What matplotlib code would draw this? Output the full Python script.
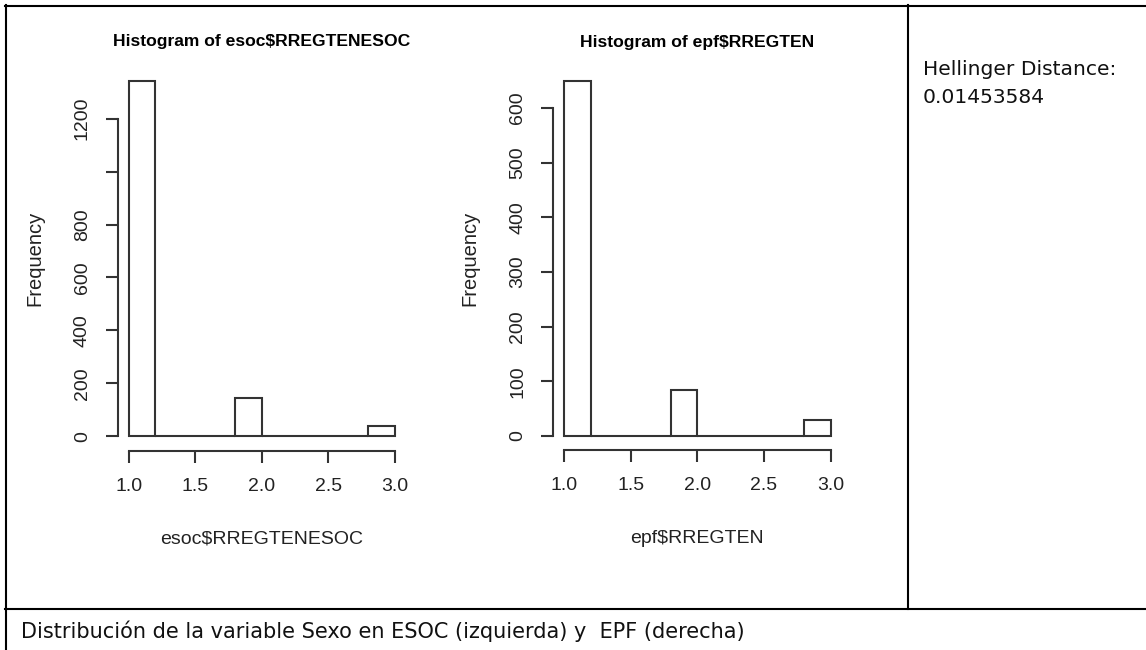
import matplotlib.pyplot as plt
from matplotlib.lines import Line2D

# histogram data
breaks = [1.0, 1.2, 1.4, 1.6, 1.8, 2.0, 2.2, 2.4, 2.6, 2.8, 3.0]
esoc_counts = [1343, 0, 0, 0, 146, 0, 0, 0, 0, 41]
epf_counts = [650, 0, 0, 0, 84, 0, 0, 0, 0, 29]
esoc_yticks = [0, 200, 400, 600, 800, 1000, 1200]
esoc_yticklabels = ['0', '200', '400', '600', '800', '', '1200']
epf_yticks = [0, 100, 200, 300, 400, 500, 600]
xticks = [1.0, 1.5, 2.0, 2.5, 3.0]

W, H = 1146, 650
fig = plt.figure(figsize=(W / 100, H / 100), dpi=100)
plt.rcParams['font.family'] = ['Liberation Sans', 'DejaVu Sans']
gray = '#333333'


def px_axes(left, top, right, bottom):
    return fig.add_axes([left / W, 1 - bottom / H, (right - left) / W, (bottom - top) / H])


def r_hist(ax, counts, yticks, yticklabels, title, xlabel):
    widths = [breaks[i + 1] - breaks[i] for i in range(len(counts))]
    ax.bar(breaks[:-1], counts, width=widths, align='edge',
           facecolor='white', edgecolor=gray, linewidth=1.5)
    ymax = max(counts)
    # R style 4% padding around the data range
    ax.set_xlim(breaks[0] - 0.04 * (breaks[-1] - breaks[0]), breaks[-1] + 0.04 * (breaks[-1] - breaks[0]))
    ax.set_ylim(-0.04 * ymax, 1.04 * ymax)
    for s in ['top', 'right']:
        ax.spines[s].set_visible(False)
    ax.spines['left'].set_bounds(yticks[0], yticks[-1])
    ax.spines['bottom'].set_bounds(xticks[0], xticks[-1])
    for s in ['left', 'bottom']:
        ax.spines[s].set_color(gray)
        ax.spines[s].set_linewidth(1.5)
    ax.set_xticks(xticks)
    ax.set_xticklabels(['%.1f' % v for v in xticks])
    ax.set_yticks(yticks)
    ax.set_yticklabels(yticklabels, rotation=90, va='center')
    ax.tick_params(direction='out', length=8.6, width=1.5, color=gray,
                   labelsize=14, labelcolor='#222222', pad=11)
    ax.set_title(title, fontsize=12.6, fontweight='bold', y=1.0635, pad=0, va='center')
    ax.set_xlabel(xlabel, fontsize=14, color='#222222', va='center')
    ax.xaxis.set_label_coords(0.5, -0.23)
    ax.set_ylabel('Frequency', fontsize=14.5, color='#222222', va='center')
    ax.yaxis.set_label_coords(-0.289, 0.5)
    ax.patch.set_alpha(0)


ax1 = px_axes(118, 66.4, 405.6, 450.7)
r_hist(ax1, esoc_counts, esoc_yticks, esoc_yticklabels,
       'Histogram of esoc$RREGTENESOC', 'esoc$RREGTENESOC')

ax2 = px_axes(553.3, 66.5, 841.3, 450.1)
r_hist(ax2, epf_counts, epf_yticks, [str(v) for v in epf_yticks],
       'Histogram of epf$RREGTEN', 'epf$RREGTEN')

# table borders
def hline(y, x0, x1):
    fig.add_artist(Line2D([x0 / W, x1 / W], [1 - y / H, 1 - y / H], color='black', lw=1.5))


def vline(x, y0, y1):
    fig.add_artist(Line2D([x / W, x / W], [1 - y0 / H, 1 - y1 / H], color='black', lw=1.5))


hline(5.5, 5, W)
vline(6, 5, H)
vline(908, 5, 609)
hline(608.8, 5, W)

fig.text(922.7 / W, 1 - 75 / H, 'Hellinger Distance:', fontsize=14.6,
         family='DejaVu Sans', va='baseline', color='#111111')
fig.text(922.7 / W, 1 - 103 / H, '0.01453584', fontsize=14.6,
         family='DejaVu Sans', va='baseline', color='#111111')
fig.text(20.7 / W, 1 - 638 / H,
         'Distribución de la variable Sexo en ESOC (izquierda) y  EPF (derecha)',
         fontsize=15, family='DejaVu Sans', va='baseline', color='#111111')

fig.savefig('out.png', dpi=100)
